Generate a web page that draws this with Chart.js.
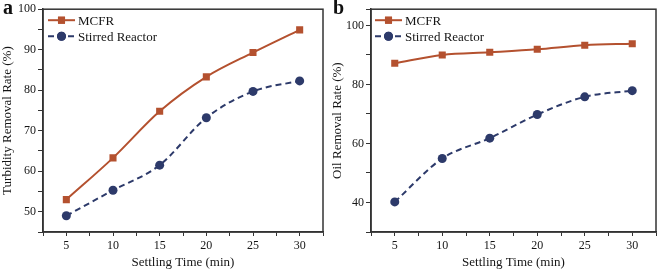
<!DOCTYPE html>
<html>
<head>
<meta charset="utf-8">
<script src="https://cdn.jsdelivr.net/npm/chart.js@4.4.0/dist/chart.umd.min.js"></script>
<style>
  html, body { margin: 0; padding: 0; background: #fff; }
  body { width: 661px; height: 271px; position: relative; overflow: hidden; }
  .panel { position: absolute; top: 0; }
  .tag { position: absolute; top: -4px; font: bold 20px 'Liberation Serif', serif; color: #111; }
</style>
</head>
<body>
<div class="panel" style="left:0"><canvas id="chartA" width="330" height="271"></canvas></div>
<div class="panel" style="left:330px"><canvas id="chartB" width="331" height="271"></canvas></div>
<div class="tag" style="left:3px">a</div>
<div class="tag" style="left:333px">b</div>
<script>
// settling time (min)
const settlingTime = [5, 10, 15, 20, 25, 30];

// panel a: turbidity removal rate (%)
const turbidityMCFR = [53.0, 63.3, 74.8, 83.3, 89.3, 94.9];
const turbidityStirred = [49.0, 55.3, 61.5, 73.2, 79.7, 82.3];

// panel b: oil removal rate (%)
const oilMCFR = [87.2, 90.0, 90.9, 91.9, 93.3, 93.8];
const oilStirred = [40.2, 54.9, 61.8, 69.8, 75.8, 77.9];

const seriesNames = ['MCFR', 'Stirred Reactor'];

const RED = '#b4512f';
const NAVY = '#2d3a6a';
const AXIS = '#333333';
const TEXT = '#151515';

Chart.defaults.font.family = "'Liberation Serif', 'Times New Roman', serif";
Chart.defaults.color = TEXT;

const toPoints = (ys) => settlingTime.map((x, i) => ({ x: x, y: ys[i] }));

const makeDatasets = (mcfr, stirred) => [
    {
        label: seriesNames[0],
        data: toPoints(mcfr),
        borderColor: RED,
        backgroundColor: RED,
        borderWidth: 2,
        pointStyle: 'rect',
        pointRadius: 5,
        pointBorderWidth: 0,
        cubicInterpolationMode: 'monotone'
    },
    {
        label: seriesNames[1],
        data: toPoints(stirred),
        borderColor: NAVY,
        backgroundColor: NAVY,
        borderWidth: 2,
        borderDash: [6, 4],
        pointStyle: 'circle',
        pointRadius: 4.5,
        pointBorderWidth: 0,
        cubicInterpolationMode: 'monotone'
    }
];

// box around the plot + legend with line and marker
const framePlugin = {
    id: 'frame',
    afterDatasetsDraw(chart, args, opts) {
        const { ctx, chartArea } = chart;
        ctx.save();
        ctx.strokeStyle = AXIS;
        ctx.lineWidth = 1.5;
        ctx.strokeRect(chartArea.left, chartArea.top, chartArea.right - chartArea.left, chartArea.bottom - chartArea.top);

        chart.data.datasets.forEach((ds, i) => {
            const y = chartArea.top + 11 + i * 16;
            const x0 = chartArea.left + opts.dx;
            const x1 = x0 + 27;
            ctx.strokeStyle = ds.borderColor;
            ctx.lineWidth = 2;
            ctx.setLineDash(ds.borderDash || []);
            ctx.beginPath();
            ctx.moveTo(x0, y);
            ctx.lineTo(x1, y);
            ctx.stroke();
            ctx.setLineDash([]);
            ctx.fillStyle = ds.backgroundColor;
            Chart.helpers.drawPoint(ctx, { pointStyle: ds.pointStyle, radius: ds.pointRadius, borderWidth: 0 }, (x0 + x1) / 2, y);
            ctx.fill();
            ctx.fillStyle = TEXT;
            ctx.font = "13px 'Liberation Serif', serif";
            ctx.textBaseline = 'middle';
            ctx.fillText(ds.label, x1 + 3, y + 1);
        });
        ctx.restore();
    }
};

const makeChart = (id, mcfr, stirred, yMin, yMax, yStep, yLabelEvery, yTitle, yWidth, padRight, legendDx) => {
    return new Chart(document.getElementById(id), {
        type: 'line',
        data: { datasets: makeDatasets(mcfr, stirred) },
        plugins: [framePlugin],
        options: {
            responsive: false,
            animation: false,
            layout: { padding: { top: 6, right: padRight, left: 0, bottom: 0 } },
            plugins: {
                legend: { display: false },
                tooltip: { enabled: false },
                frame: { dx: legendDx }
            },
            scales: {
                x: {
                    type: 'linear',
                    min: 2.5,
                    max: 32.5,
                    afterFit: (s) => { s.height = 39; },
                    border: { display: true, color: AXIS, width: 1.5 },
                    grid: { drawOnChartArea: false, drawTicks: true, tickLength: 4, color: AXIS, tickWidth: 1 },
                    ticks: {
                        stepSize: 2.5,
                        autoSkip: false,
                        maxRotation: 0,
                        padding: 3,
                        font: { size: 12 },
                        color: TEXT,
                        callback: (v) => (v % 5 === 0 ? v : '')
                    },
                    title: {
                        display: true,
                        text: 'Settling Time (min)',
                        font: { size: 13 },
                        color: TEXT,
                        padding: { top: 0, bottom: 1 }
                    }
                },
                y: {
                    type: 'linear',
                    min: yMin,
                    max: yMax,
                    afterFit: (s) => { s.width = yWidth; },
                    border: { display: true, color: AXIS, width: 1.5 },
                    grid: { drawOnChartArea: false, drawTicks: true, tickLength: 5, color: AXIS, tickWidth: 1 },
                    ticks: {
                        stepSize: yStep,
                        autoSkip: false,
                        padding: 2,
                        font: { size: 12 },
                        color: TEXT,
                        callback: (v) => (v % yLabelEvery === 0 ? v : '')
                    },
                    title: {
                        display: true,
                        text: yTitle,
                        font: { size: 13 },
                        color: TEXT,
                        padding: { top: 0, bottom: 0 }
                    }
                }
            }
        }
    });
};

makeChart('chartA', turbidityMCFR, turbidityStirred, 45, 100, 5, 10, 'Turbidity Removal Rate (%)', 43, 7, 5);
makeChart('chartB', oilMCFR, oilStirred, 30, 105.5, 10, 20, 'Oil Removal Rate (%)', 41, 5, 4);
</script>
</body>
</html>
